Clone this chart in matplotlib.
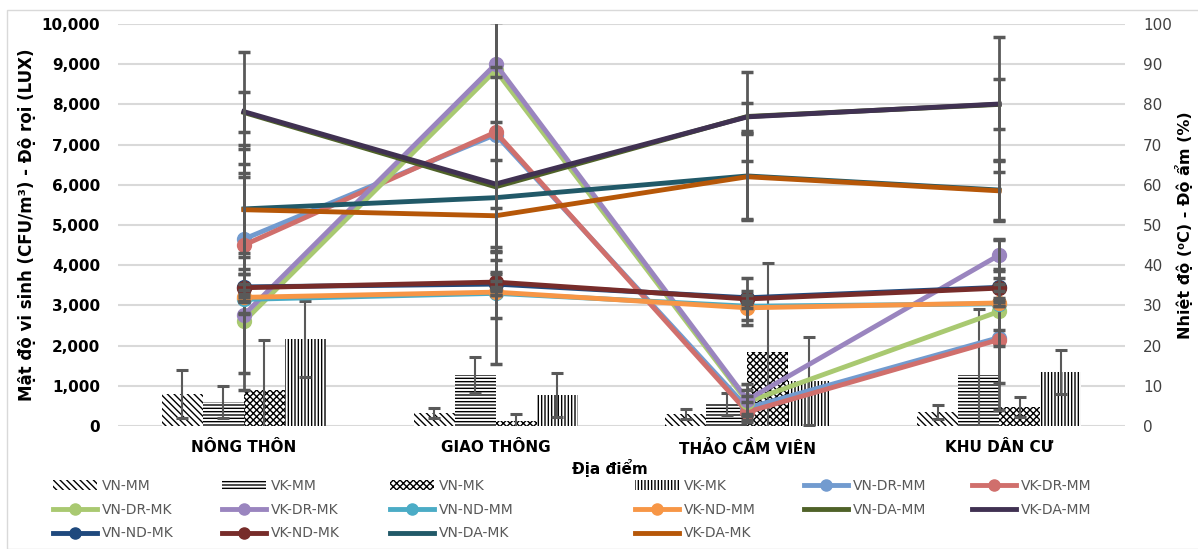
import matplotlib
matplotlib.use('Agg')
import matplotlib.pyplot as plt
from matplotlib.patches import Patch, Rectangle
from matplotlib.lines import Line2D
import numpy as np

plt.rcParams['font.family'] = ['DejaVu Sans']
plt.rcParams['hatch.linewidth'] = 1.0

categories = ['NÔNG THÔN', 'GIAO THÔNG', 'THẢO CẦM VIÊN', 'KHU DÂN CƯ']

# vi sinh (CFU/m3) - bars, left axis
VN_MM = [800, 320, 300, 350]
VK_MM = [600, 1270, 550, 1270]
VN_MK = [900, 130, 1850, 480]
VK_MK = [2170, 770, 1120, 1350]
err_VN_MM = [600, 120, 130, 170]
err_VK_MM = [400, 450, 280, 1630]
err_VN_MK = [1250, 170, 2200, 250]
err_VK_MK = [940, 550, 1090, 550]

# do roi (LUX) - left axis
VN_DR_MM = [4650, 7250, 450, 2200]
VK_DR_MM = [4500, 7310, 350, 2150]
VN_DR_MK = [2600, 8850, 600, 2850]
VK_DR_MK = [2760, 9000, 650, 4250]
err_VN_DR_MM = [1860, 2800, 300, 200]
err_VK_DR_MM = [1700, 2980, 250, 1750]
err_VN_DR_MK = [1700, 4720, 300, 1780]
err_VK_DR_MK = [1450, 5170, 400, 400]

# nhiet do / do am - right axis
VN_ND_MM = [31.5, 33.0, 29.8, 30.4]
VK_ND_MM = [32.0, 33.3, 29.4, 30.6]
VN_ND_MK = [34.6, 35.3, 31.9, 34.5]
VK_ND_MK = [34.4, 35.8, 31.6, 34.3]
VN_DA_MM = [78.0, 59.5, 77.0, 80.0]
VK_DA_MM = [78.2, 60.2, 76.9, 80.1]
VN_DA_MK = [54.0, 56.8, 62.2, 58.7]
VK_DA_MK = [53.8, 52.3, 62.0, 58.5]
err_VN_ND_MM = [0.5, 0.5, 0.5, 0.5]
err_VK_ND_MM = [0.8, 0.8, 4.3, 0.8]
err_VN_ND_MK = [0.8, 0.8, 0.8, 0.8]
err_VK_ND_MK = [3.5, 2.0, 5.2, 2.5]
err_VN_DA_MM = [15, 16, 11, 16.8]
err_VK_DA_MM = [5, 6, 3.5, 6.3]
err_VN_DA_MK = [15, 30, 10.7, 7.5]
err_VK_DA_MK = [16, 37, 10.7, 7.5]

errColor = '#595959'
x = np.arange(len(categories))
w = 0.163

fig = plt.figure(figsize=(11.98, 5.49), dpi=100)
fig.patches.append(Rectangle((7/1198, 0), 1.0, 1 - 10/549, transform=fig.transFigure,
                             fill=False, edgecolor='#d9d9d9', linewidth=1))
ax = fig.add_axes([118/1198, 1 - 426/549, (1125-118)/1198, (426-24)/549])
ax2 = ax.twinx()

# bars
bars = [(VN_MM, err_VN_MM, '\\\\\\\\\\', 'VN-MM'),
        (VK_MM, err_VK_MM, '-----', 'VK-MM'),
        (VN_MK, err_VN_MK, 'xxxxx', 'VN-MK'),
        (VK_MK, err_VK_MK, '|||||', 'VK-MK')]
handles = {}
for i, (vals, err, hatch, name) in enumerate(bars):
    pos = x + (i - 1.5) * w
    ax.bar(pos, vals, w, color='white', edgecolor='black', linewidth=0, hatch=hatch, zorder=2)
    ax.errorbar(pos, vals, yerr=err, fmt='none', ecolor=errColor, elinewidth=1.5,
                capsize=4, capthick=2.2, zorder=3)
    handles[name] = Patch(facecolor='white', edgecolor='black', linewidth=0, hatch=hatch)

left_lines = [(VN_DR_MM, err_VN_DR_MM, '#729bcf', 'o', 'VN-DR-MM'),
              (VK_DR_MM, err_VK_DR_MM, '#d06f6c', 'o', 'VK-DR-MM'),
              (VN_DR_MK, err_VN_DR_MK, '#a9c971', 'o', 'VN-DR-MK'),
              (VK_DR_MK, err_VK_DR_MK, '#9a85bf', 'o', 'VK-DR-MK')]
right_lines = [(VN_ND_MM, err_VN_ND_MM, '#4bacc6', 'o', 'VN-ND-MM'),
               (VK_ND_MM, err_VK_ND_MM, '#f79646', 'o', 'VK-ND-MM'),
               (VN_DA_MM, err_VN_DA_MM, '#4f6228', None, 'VN-DA-MM'),
               (VK_DA_MM, err_VK_DA_MM, '#403152', None, 'VK-DA-MM'),
               (VN_ND_MK, err_VN_ND_MK, '#1f497d', 'o', 'VN-ND-MK'),
               (VK_ND_MK, err_VK_ND_MK, '#772c2a', 'o', 'VK-ND-MK'),
               (VN_DA_MK, err_VN_DA_MK, '#215968', None, 'VN-DA-MK'),
               (VK_DA_MK, err_VK_DA_MK, '#b65708', None, 'VK-DA-MK')]

for vals, err, col, mk, name in left_lines:
    ax.plot(x, vals, color=col, lw=3.5, marker=mk, ms=10, zorder=4, clip_on=False)
    ax.errorbar(x, vals, yerr=err, fmt='none', ecolor=errColor, elinewidth=2.0,
                capsize=4, capthick=2.5, zorder=5)
    handles[name] = Line2D([], [], color=col, lw=3.5, marker=mk, ms=8)

for vals, err, col, mk, name in right_lines:
    ax2.plot(x, vals, color=col, lw=3.5, marker=mk, ms=10, zorder=4, clip_on=False)
    ax2.errorbar(x, vals, yerr=err, fmt='none', ecolor=errColor, elinewidth=2.0,
                 capsize=4, capthick=2.5, zorder=5)
    handles[name] = Line2D([], [], color=col, lw=3.5, marker=mk, ms=8)

ax.set_xlim(-0.5, 3.5)
ax.set_ylim(0, 10000)
ax2.set_ylim(0, 100)
ax.set_yticks(np.arange(0, 10001, 1000))
ax.set_yticklabels([f'{v:,}' for v in range(0, 10001, 1000)], fontweight='bold', fontsize=11)
ax2.set_yticks(np.arange(0, 101, 10))
ax2.set_yticklabels([str(v) for v in range(0, 101, 10)], fontsize=11, color='#404040')
ax.set_xticks(x)
ax.set_xticklabels(categories, fontweight='bold', fontsize=11)
ax.yaxis.grid(True, color='#d9d9d9', lw=1.5, zorder=0)
ax.set_axisbelow(True)
for a in (ax, ax2):
    for s in a.spines.values():
        s.set_visible(False)
    a.tick_params(length=0)
ax.tick_params(axis='y', pad=13)
ax.tick_params(axis='x', pad=10)
ax2.tick_params(axis='y', pad=13)

ax.set_ylabel('Mật độ vi sinh (CFU/m³) - Độ rọi (LUX)', fontweight='bold', fontsize=12, labelpad=4)
ax2.set_ylabel('Nhiệt độ (⁰C) - Độ ẩm (%)', fontweight='bold', fontsize=11.5, labelpad=2)
fig.text(610/1198, 1 - 468/549, 'Địa điểm', ha='center', va='center', fontweight='bold', fontsize=11)

# legend: 6 columns placed by hand
cols = [['VN-MM', 'VN-DR-MK', 'VN-ND-MK'],
        ['VK-MM', 'VK-DR-MK', 'VK-ND-MK'],
        ['VN-MK', 'VN-ND-MM', 'VN-DA-MK'],
        ['VK-MK', 'VK-ND-MM', 'VK-DA-MK'],
        ['VN-DR-MM', 'VN-DA-MM'],
        ['VK-DR-MM', 'VK-DA-MM']]
colX = [53, 222, 390, 635, 804, 972]
for names, cx in zip(cols, colX):
    fig.legend([handles[n] for n in names], names, loc='upper left',
               bbox_to_anchor=(cx/1198, 1 - 479/549), frameon=False,
               borderpad=0, borderaxespad=0, handlelength=3.2, handletextpad=0.3,
               labelspacing=0.7, fontsize=10, labelcolor='#595959')

fig.savefig('out.png', dpi=100)
